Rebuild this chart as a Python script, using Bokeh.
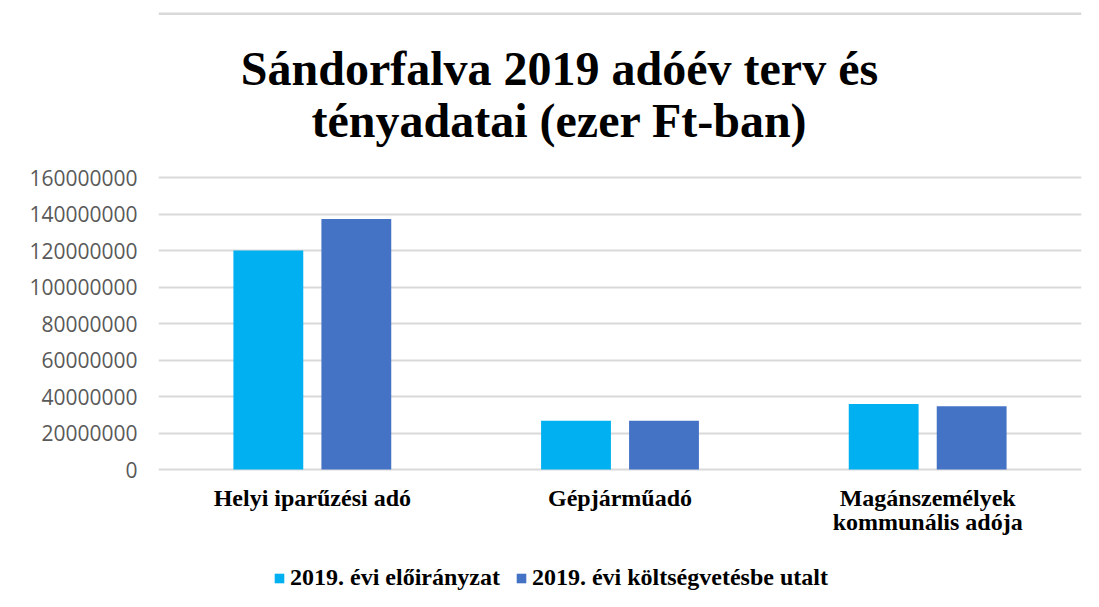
from bokeh.plotting import figure
from bokeh.models import (ColumnDataSource, FactorRange, Range1d, FixedTicker, BasicTickFormatter,
                          Legend, LegendItem, Label, BoxAnnotation)
from bokeh.core.properties import value
from bokeh.transform import dodge
from bokeh.embed import file_html
from bokeh.resources import INLINE

categories = ["Helyi iparűzési adó", "Gépjárműadó", "Magánszemélyek\nkommunális adója"]
eloiranyzat = [120000000, 26700000, 35900000]
utalt = [137300000, 26700000, 34600000]
series_names = ["2019. évi előirányzat", "2019. évi költségvetésbe utalt"]
y_ticks = [0, 20000000, 40000000, 60000000, 80000000, 100000000, 120000000, 140000000, 160000000]
title_lines = ["Sándorfalva 2019 adóév terv és", "tényadatai (ezer Ft-ban)"]

colors = ["#00B0F0", "#4472C4"]
serif = "Liberation Serif"

src = ColumnDataSource(dict(cat=categories, a=eloiranyzat, b=utalt, base=[0] * len(categories)))

# frame covers the full canvas height; value 0 sits 130 px above the bottom, 160M at 177 px from top
p = figure(width=1091, height=599, x_range=FactorRange(*categories),
           y_range=Range1d(-71230000, 256990000), output_backend="svg", toolbar_location=None,
           min_border_left=158, min_border_right=10, min_border_top=0, min_border_bottom=0)
p.title.visible = False
p.outline_line_color = None
p.background_fill_color = "white"
p.border_fill_color = "white"

r1 = p.vbar(x=dodge("cat", -0.143, range=p.x_range), top="a", width=0.227, source=src,
            fill_color=colors[0], line_color=None)
r2 = p.vbar(x=dodge("cat", 0.143, range=p.x_range), top="b", width=0.227, source=src,
            fill_color=colors[1], line_color=None)

p.xgrid.grid_line_color = None
p.ygrid.grid_line_color = "#D9D9D9"
p.ygrid.grid_line_width = 2
p.yaxis.ticker = FixedTicker(ticks=y_ticks)
p.yaxis.formatter = BasicTickFormatter(use_scientific=False)
p.yaxis.axis_line_color = None
p.yaxis.major_tick_line_color = None
p.yaxis.minor_tick_line_color = None
p.yaxis.major_label_text_font = "Open Sans"
p.yaxis.major_label_text_font_size = "21px"
p.yaxis.major_label_text_color = "#595959"
p.yaxis.major_label_standoff = 15
p.xaxis.visible = False

# category labels under the bars
p.text(x="cat", y="base", text="cat", source=src, y_offset=15, text_align="center",
       text_baseline="top", text_font=value(serif), text_font_style="bold",
       text_font_size="24px", text_color="#000000", text_line_height=0.95)

for line, ybase in zip(title_lines, [531, 479]):
    p.add_layout(Label(x=401, y=ybase, x_units="screen", y_units="screen", text=line,
                       text_align="center", text_baseline="alphabetic", text_font=serif,
                       text_font_style="bold", text_font_size="48px", text_color="#000000"))

# chart-area border line along the top
p.add_layout(BoxAnnotation(top=587, bottom=584.5, top_units="screen", bottom_units="screen",
                           fill_color="#D9D9D9", fill_alpha=1, line_color=None))

legend = Legend(items=[LegendItem(label=series_names[0], renderers=[r1]),
                       LegendItem(label=series_names[1], renderers=[r2])],
                orientation="horizontal", location=(115, 8))
legend.label_text_font = serif
legend.label_text_font_style = "bold"
legend.label_text_font_size = "24px"
legend.label_text_color = "#000000"
legend.glyph_width = 12
legend.glyph_height = 12
legend.label_standoff = 5
legend.spacing = 15
legend.padding = 0
legend.margin = 0
legend.border_line_color = None
legend.background_fill_alpha = 0
p.add_layout(legend, "center")

open("out.html", "w").write(file_html(p, INLINE))
